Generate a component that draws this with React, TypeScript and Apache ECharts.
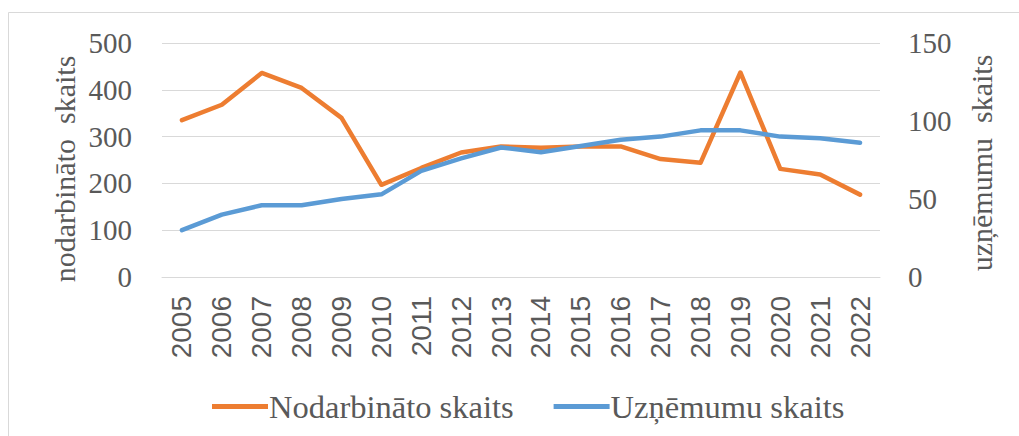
import React, { useEffect, useRef } from "react";
import * as echarts from "echarts";

const years = ["2005","2006","2007","2008","2009","2010","2011","2012","2013","2014","2015","2016","2017","2018","2019","2020","2021","2022"];
const nodarbinato = [335, 368, 436, 404, 340, 197, 233, 266, 279, 276, 279, 279, 252, 244, 437, 231, 219, 176];
const uznemumu = [30, 40, 46, 46, 50, 53, 68, 76, 83, 80, 84, 88, 90, 94, 94, 90, 89, 86];
const leftName = "nodarbināto  skaits";
const rightName = "uzņēmumu  skaits";
const seriesNames = ["Nodarbināto skaits", "Uzņēmumu skaits"];

export default function App() {
  const ref = useRef<HTMLDivElement>(null);
  useEffect(() => {
    if (!ref.current) return;
    const chart = echarts.init(ref.current, null, { renderer: "svg" });
    const serif = "'Liberation Serif', 'Times New Roman', serif";
    const sans = "'Liberation Sans', Arial, sans-serif";
    const textColor = "#595959";
    chart.setOption({
      animation: false,
      backgroundColor: "#ffffff",
      grid: { left: 162, right: 139, top: 43, bottom: 159 },
      legend: {
        left: 207,
        top: 385,
        itemWidth: 56,
        itemHeight: 5,
        itemGap: 40,
        icon: "rect",
        textStyle: { fontFamily: serif, fontSize: 32.5, color: textColor, padding: [0, 0, 0, -4] },
        data: seriesNames,
      },
      xAxis: {
        type: "category",
        data: years,
        boundaryGap: true,
        axisLine: { lineStyle: { color: "#d9d9d9", width: 1 } },
        axisTick: { show: false },
        axisLabel: { rotate: 90, margin: 19, fontFamily: sans, fontSize: 28, color: textColor, interval: 0 },
      },
      yAxis: [
        {
          type: "value",
          min: 0,
          max: 500,
          interval: 100,
          axisLine: { show: false },
          axisTick: { show: false },
          splitLine: { lineStyle: { color: "#d9d9d9", width: 1 } },
          axisLabel: { margin: 30, fontFamily: serif, fontSize: 29, color: textColor },
        },
        {
          type: "value",
          min: 0,
          max: 150,
          interval: 50,
          position: "right",
          axisLine: { show: false },
          axisTick: { show: false },
          splitLine: { show: false },
          axisLabel: { margin: 28, fontFamily: serif, fontSize: 29, color: textColor },
        },
      ],
      series: [
        {
          name: seriesNames[0],
          type: "line",
          yAxisIndex: 0,
          data: nodarbinato,
          symbol: "none",
          lineStyle: { color: "#ED7D31", width: 4.5, cap: "round", join: "round" },
          itemStyle: { color: "#ED7D31" },
        },
        {
          name: seriesNames[1],
          type: "line",
          yAxisIndex: 1,
          data: uznemumu,
          symbol: "none",
          lineStyle: { color: "#5B9BD5", width: 4.5, cap: "round", join: "round" },
          itemStyle: { color: "#5B9BD5" },
        },
      ],
      graphic: [
        { type: "line", shape: { x1: 8.5, y1: 12.5, x2: 1019, y2: 12.5 }, style: { stroke: "#d9d9d9", lineWidth: 1 } },
        { type: "line", shape: { x1: 8.5, y1: 12.5, x2: 8.5, y2: 436 }, style: { stroke: "#d9d9d9", lineWidth: 1 } },
        {
          type: "text",
          x: 64,
          y: 169,
          rotation: Math.PI / 2,
          style: { text: leftName, fontFamily: serif, fontSize: 30, fill: textColor, textAlign: "center", textVerticalAlign: "middle" },
        },
        {
          type: "text",
          x: 981,
          y: 163,
          rotation: Math.PI / 2,
          style: { text: rightName, fontFamily: serif, fontSize: 30, fill: textColor, textAlign: "center", textVerticalAlign: "middle" },
        },
      ],
    });
    return () => chart.dispose();
  }, []);
  return <div ref={ref} style={{ position: "fixed", left: 0, top: 0, width: 1019, height: 436 }} />;
}
